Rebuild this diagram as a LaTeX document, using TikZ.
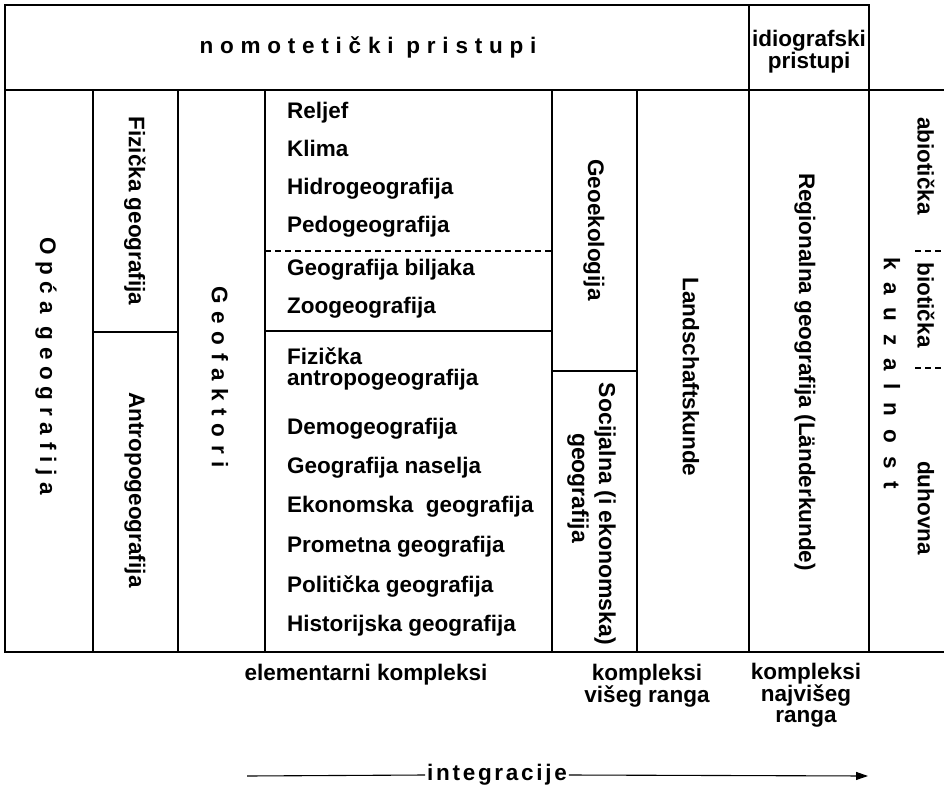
\documentclass[tikz,border=0pt]{standalone}
\usepackage{fontspec}
\setmainfont{Liberation Sans}
\usetikzlibrary{arrows.meta}
\begin{document}
\begin{tikzpicture}[x=1pt,y=-1pt,
  rule/.style={line width=1.5pt, line cap=rect},
  divider/.style={line width=1.1pt},
  dashrule/.style={line width=1.1pt, dash pattern=on 6pt off 4pt},
  lbl/.style={font=\fontsize{22.5}{21}\selectfont\bfseries, inner sep=0pt},
  item/.style={lbl, anchor=mid west},
  vlbl/.style={lbl, rotate=-90, align=center},
  spaced/.style={font=\fontsize{22.5}{21}\selectfont\bfseries\addfontfeature{LetterSpace=#1}},
]
\useasboundingbox (0,0) rectangle (944,791);
\fill[white] (0,0) rectangle (944,791);

% frame and column rules
\draw[rule] (5,90) -- (5,5) -- (869,5) -- (869,652);
\draw[rule] (5,90) -- (944,90);
\draw[rule] (5,652) -- (944,652);
\draw[rule] (5,90) -- (5,652);
\foreach \x in {93,178,265,552,637}
  \draw[rule] (\x,90) -- (\x,652);
\draw[rule] (749,5) -- (749,652);

% horizontal dividers inside the columns
\draw[divider] (93,332) -- (178,332);
\draw[dashrule] (265,251) -- (552,251);
\draw[divider] (265,331) -- (552,331);
\draw[divider] (552,371) -- (637,371);
\draw[dashrule] (915,251) -- (944,251);
\draw[dashrule] (915,368) -- (944,368);

% header
\node[lbl, spaced=30] (nomo) at (368,47) {nomotetički pristupi};
\node[lbl, align=center, font=\fontsize{22.5}{20}\selectfont\bfseries] (idio) at (809,52) {idiografski\\pristupi};

% vertical column titles
\node[vlbl, spaced=30] (opca) at (46,366) {Opća geografija};
\node[vlbl] (fizg) at (135,211) {Fizička geografija};
\node[vlbl] (antr) at (135,490) {Antropogeografija};
\node[vlbl, spaced=34] (geof) at (220,377) {Geofaktori};
\node[vlbl] (geoe) at (594,230) {Geoekologija};
\node[vlbl, font=\fontsize{23}{23}\selectfont\bfseries] (soci) at (605,514) {Socijalna (i ekonomska)};
\node[vlbl, font=\fontsize{23}{23}\selectfont\bfseries] (socg) at (578,488) {geografija};
\node[vlbl] (land) at (691,377) {Landschaftskunde};
\node[vlbl] (regi) at (805,372) {Regionalna geografija (Länderkunde)};
\node[vlbl, spaced=57] (kauz) at (892,373) {kauzalnost};
\node[vlbl] (abio) at (926,166) {abiotička};
\node[vlbl] (bio) at (926,305) {biotička};
\node[vlbl] (duho) at (926,508) {duhovna};

% list of elementary complexes
\node[item] (relj) at (287,116) {Reljef};
\node[item] (klim) at (287,154) {Klima};
\node[item] (hidr) at (287,192) {Hidrogeografija};
\node[item] (pedo) at (287,230) {Pedogeografija};
\node[item] (bilj) at (287,273) {Geografija biljaka};
\node[item] (zoog) at (287,311) {Zoogeografija};
\node[item, anchor=west, align=left] (fant) at (287,369) {Fizička\\antropogeografija};
\node[item] (demo) at (287,432) {Demogeografija};
\node[item] (nase) at (287,471) {Geografija naselja};
\node[item] (ekon) at (287,510) {Ekonomska\ \ geografija};
\node[item] (prom) at (287,550) {Prometna geografija};
\node[item] (poli) at (287,590) {Politička geografija};
\node[item] (hist) at (287,629) {Historijska geografija};

% captions under the table
\node[lbl] (elem) at (366,675) {elementarni kompleksi};
\node[lbl, align=center, anchor=north, font=\fontsize{22.5}{20}\selectfont\bfseries] (visi) at (647,664) {kompleksi\\višeg ranga};
\node[lbl, align=center, anchor=north, font=\fontsize{22.5}{21}\selectfont\bfseries] (najv) at (806,663) {kompleksi\\najvišeg\\ranga};

% integration arrow
\coordinate (arrS) at (247,776);
\coordinate (arrE) at (868,776);
\node[lbl, spaced=12, inner xsep=2pt] (integ) at (497,775) {integracije};
\draw[divider] (arrS) -- (integ.west);
\draw[divider, -{Triangle[length=12pt,width=8pt]}] (integ.east) -- (arrE);
\end{tikzpicture}
\end{document}
